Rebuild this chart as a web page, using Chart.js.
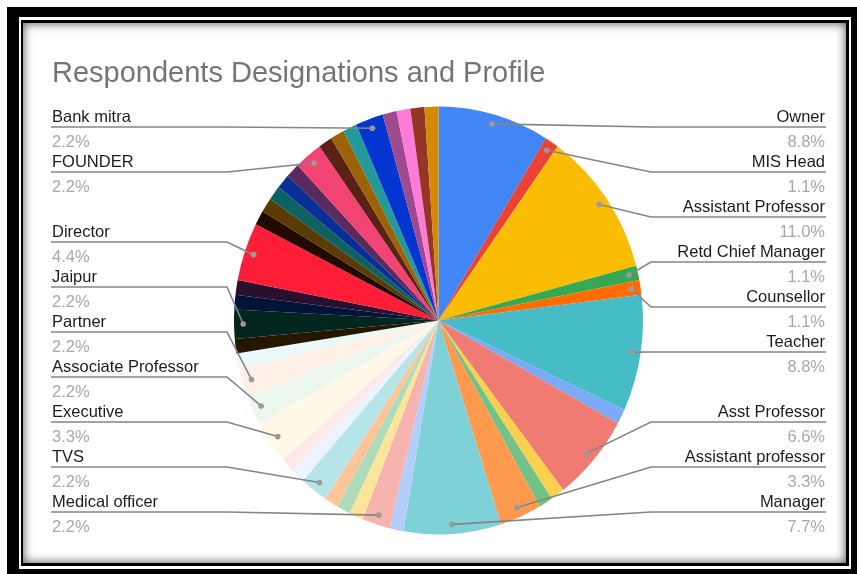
<!DOCTYPE html>
<html>
<head>
<meta charset="utf-8">
<title>Respondents Designations and Profile</title>
<script src="https://cdn.jsdelivr.net/npm/chart.js@4"></script>
<style>
  html, body { margin: 0; padding: 0; background: #fff; }
  body { width: 857px; height: 574px; position: relative; overflow: hidden; }
  .box { position: absolute; }
  #outer { left: 7px; top: 7px; width: 850px; height: 567px; background: #000; }
  #ruleWhite { left: 19px; top: 17px; width: 832px; height: 552px; background: #fff; }
  #ruleBlack { left: 21px; top: 20px; width: 828px; height: 546px; background: #000; }
  #panel { left: 23px; top: 23px; width: 823px; height: 540px; background: #fff;
           box-shadow: inset 0 0 10px 1px rgba(0, 0, 0, 0.6); }
  #chart { position: absolute; left: 0; top: 0; }
</style>
</head>
<body>
<div class="box" id="outer"></div>
<div class="box" id="ruleWhite"></div>
<div class="box" id="ruleBlack"></div>
<div class="box" id="panel"></div>
<canvas id="chart" width="857" height="574"></canvas>
<script>
const categories = [
  "Owner", "MIS Head", "Assistant Professor", "Retd Chief Manager", "Counsellor", "Teacher",
  "", "Asst Professor", "", "", "Assistant professor", "Manager",
  "", "Medical officer", "", "", "", "TVS",
  "", "", "Executive", "Associate Professor", "Partner", "",
  "", "Jaipur", "", "", "Director",
  "", "", "", "", "", "FOUNDER",
  "", "", "", "Bank mitra",
  "", "", "", ""
];

const counts = [
  8, 1, 10, 1, 1, 8,
  1, 6, 1, 1, 3, 7,
  1, 2, 1, 1, 1, 2,
  1, 1, 3, 2, 2, 1,
  1, 2, 1, 1, 4,
  1, 1, 1, 1, 1, 2,
  1, 1, 1, 2,
  1, 1, 1, 1
];

const sliceColors = [
  "#4285F4", "#EA4335", "#FBBC04", "#34A853", "#FF6D01", "#46BDC6",
  "#7BAAF7", "#F07B72", "#FCD04F", "#71C287", "#FF994D", "#7ED1D7",
  "#B3CEFB", "#F7B4AE", "#FDE49B", "#AEDCBA", "#FFC599", "#B5E5E8",
  "#ECF3FE", "#FDE9E8", "#FFF8E6", "#EAF6EE", "#FFF0E6", "#E9F8F9",
  "#261600", "#03271F", "#001438", "#2A0F2E", "#FF1E38",
  "#230A00", "#5C3B00", "#0E6161", "#072F96", "#5A2A5C", "#F24472",
  "#5B2016", "#9B6305", "#23999B", "#0535D0",
  "#9E4A8F", "#FF7BD8", "#973525", "#D38B07"
];

// side of the chart and y of the rule under each label
const labelRows = {
  "Owner": ["right", 127],
  "MIS Head": ["right", 172],
  "Assistant Professor": ["right", 217],
  "Retd Chief Manager": ["right", 262],
  "Counsellor": ["right", 307],
  "Teacher": ["right", 352],
  "Asst Professor": ["right", 422],
  "Assistant professor": ["right", 467],
  "Manager": ["right", 512],
  "Bank mitra": ["left", 127],
  "FOUNDER": ["left", 172],
  "Director": ["left", 242],
  "Jaipur": ["left", 287],
  "Partner": ["left", 332],
  "Associate Professor": ["left", 377],
  "Executive": ["left", 422],
  "TVS": ["left", 467],
  "Medical officer": ["left", 512]
};

const ovalY = 214 / 204.5;
const fontFamily = "'Liberation Sans', Arial, sans-serif";

const pieLabels = {
  id: "pieLabels",
  beforeDatasetsDraw(chart) {
    // pie is drawn slightly taller than wide
    const first = chart.getDatasetMeta(0).data[0];
    const ctx = chart.ctx;
    ctx.save();
    ctx.translate(first.x, first.y);
    ctx.scale(1, ovalY);
    ctx.translate(-first.x, -first.y);
  },
  afterDatasetsDraw(chart) {
    const ctx = chart.ctx;
    ctx.restore();

    ctx.save();
    ctx.font = "29px " + fontFamily;
    ctx.fillStyle = "#757575";
    ctx.textAlign = "left";
    ctx.textBaseline = "alphabetic";
    ctx.fillText("Respondents Designations and Profile", 52, 82);

    const total = counts.reduce((a, b) => a + b, 0);
    chart.getDatasetMeta(0).data.forEach((arc, i) => {
      const row = labelRows[categories[i]];
      if (!row) return;
      const [side, y] = row;
      const right = side === "right";
      const mid = (arc.startAngle + arc.endAngle) / 2;
      const r = arc.outerRadius * 0.955;
      const px = arc.x + Math.cos(mid) * r;
      const py = arc.y + Math.sin(mid) * r * ovalY;

      ctx.strokeStyle = "#858585";
      ctx.lineWidth = 1.6;
      ctx.beginPath();
      ctx.moveTo(right ? 826 : 51, y);
      ctx.lineTo(right ? 651 : 227, y);
      ctx.lineTo(px, py);
      ctx.stroke();

      ctx.fillStyle = "#9a9a9a";
      ctx.beginPath();
      ctx.arc(px, py, 2.8, 0, Math.PI * 2);
      ctx.fill();

      const tx = right ? 825 : 52;
      ctx.textAlign = right ? "right" : "left";
      ctx.font = "16.5px " + fontFamily;
      ctx.fillStyle = "#1c1c1c";
      ctx.fillText(categories[i], tx, y - 5);
      ctx.fillStyle = "#a8a8a8";
      ctx.fillText((counts[i] / total * 100).toFixed(1) + "%", tx, y + 20);
    });
    ctx.restore();
  }
};

new Chart(document.getElementById("chart"), {
  type: "pie",
  data: {
    labels: categories,
    datasets: [{
      data: counts,
      backgroundColor: sliceColors,
      borderWidth: 0,
      hoverOffset: 0,
      clip: false
    }]
  },
  options: {
    responsive: false,
    animation: false,
    events: [],
    layout: { padding: { left: 234, right: 214, top: 116, bottom: 49 } },
    plugins: {
      legend: { display: false },
      tooltip: { enabled: false }
    }
  },
  plugins: [pieLabels]
});
</script>
</body>
</html>
